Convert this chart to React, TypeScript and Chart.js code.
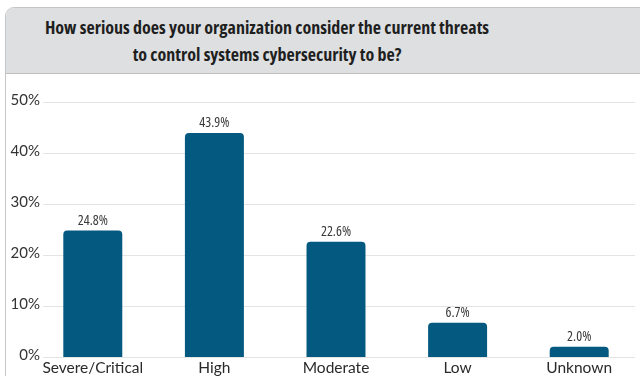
import React, { useEffect, useRef } from "react";
import { Chart, registerables } from "chart.js";

Chart.register(...registerables);

const categories = ["Severe/Critical", "High", "Moderate", "Low", "Unknown"];
const values = [24.8, 43.9, 22.6, 6.7, 2.0];
const yTicks = [0, 10, 20, 30, 40, 50];
const titleLines = [
  "How serious does your organization consider the current threats",
  "to control systems cybersecurity to be?",
];

const BAR_COLOR = "#03597f";
const FAMILY = '"Open Sans", sans-serif';
const AXIS_FAMILY = 'Lato, "Open Sans", sans-serif';

export default function App() {
  const ref = useRef<HTMLCanvasElement | null>(null);

  useEffect(() => {
    document.body.style.margin = "0";
    const canvas = ref.current;
    if (!canvas) return;

    const setFont = (ctx: any, size: number, stretch: string, family = FAMILY) => {
      ctx.font = `normal ${size}px ${family}`;
      try {
        ctx.fontStretch = stretch;
      } catch (e) {}
    };

    const gridPlugin = {
      id: "customGrid",
      beforeDatasetsDraw(chart: any) {
        const ctx = chart.ctx;
        const y = chart.scales.y;
        ctx.save();
        ctx.strokeStyle = "#e4e4e4";
        ctx.lineWidth = 1;
        yTicks.forEach((t) => {
          const py = Math.round(y.getPixelForValue(t)) + 0.5;
          ctx.beginPath();
          ctx.moveTo(43, py);
          ctx.lineTo(635, py);
          ctx.stroke();
        });
        ctx.fillStyle = "#333333";
        setFont(ctx, 15, "normal", AXIS_FAMILY);
        ctx.textAlign = "right";
        ctx.textBaseline = "middle";
        yTicks.forEach((t) => {
          ctx.fillText(t + "%", 40, y.getPixelForValue(t) - 2);
        });
        ctx.restore();
      },
    };

    const labelPlugin = {
      id: "valueLabels",
      afterDatasetsDraw(chart: any) {
        const ctx = chart.ctx;
        const meta = chart.getDatasetMeta(0);
        const x = chart.scales.x;
        ctx.save();
        ctx.fillStyle = "#3a3a3a";
        setFont(ctx, 14, "condensed");
        ctx.textAlign = "center";
        ctx.textBaseline = "bottom";
        meta.data.forEach((bar: any, i: number) => {
          ctx.fillText(values[i].toFixed(1) + "%", bar.x, bar.y - 3);
        });
        ctx.fillStyle = "#2a2a2a";
        setFont(ctx, 15.5, "normal", AXIS_FAMILY);
        ctx.textBaseline = "top";
        categories.forEach((c, i) => {
          ctx.fillText(c, x.getPixelForValue(i), chart.chartArea.bottom + 3);
        });
        ctx.restore();
      },
    };

    const chart = new Chart(canvas, {
      type: "bar",
      data: {
        labels: categories,
        datasets: [
          {
            data: values,
            backgroundColor: BAR_COLOR,
            borderRadius: { topLeft: 4, topRight: 4, bottomLeft: 0, bottomRight: 0 },
            borderSkipped: "bottom",
            categoryPercentage: 1,
            barPercentage: 0.485,
          },
        ],
      },
      options: {
        responsive: false,
        animation: false,
        layout: { padding: { top: 102, left: 32, right: 0, bottom: 19 } },
        plugins: {
          legend: { display: false },
          title: { display: false },
          tooltip: { enabled: false },
        },
        scales: {
          x: { display: false },
          y: { display: false, min: 0, max: 50 },
        },
      },
      plugins: [gridPlugin, labelPlugin],
    });

    return () => chart.destroy();
  }, []);

  return (
    <div
      style={{
        position: "relative",
        width: 640,
        height: 376,
        overflow: "hidden",
        background: "#ffffff",
      }}
    >
      <div
        style={{
          position: "absolute",
          left: 5,
          top: 7,
          width: 700,
          height: 400,
          border: "1px solid #c4c5c7",
          borderRadius: 9,
          background: "#ffffff",
          overflow: "hidden",
        }}
      >
        <div
          style={{
            height: 65,
            background: "#dedfe1",
            borderBottom: "1px solid #bfc0c2",
          }}
        />
      </div>
      <div
        style={{
          position: "absolute",
          left: 0,
          top: 14,
          width: 534,
          textAlign: "center",
          fontFamily: FAMILY,
          fontStretch: "condensed",
          fontWeight: 700,
          fontSize: 18,
          lineHeight: "27px",
          color: "#1f1f1f",
          whiteSpace: "nowrap",
        }}
      >
        {titleLines.map((l, i) => (
          <div key={i}>{l}</div>
        ))}
      </div>
      <canvas
        ref={ref}
        width={640}
        height={376}
        style={{ position: "absolute", left: 0, top: 0, width: 640, height: 376 }}
      />
    </div>
  );
}
